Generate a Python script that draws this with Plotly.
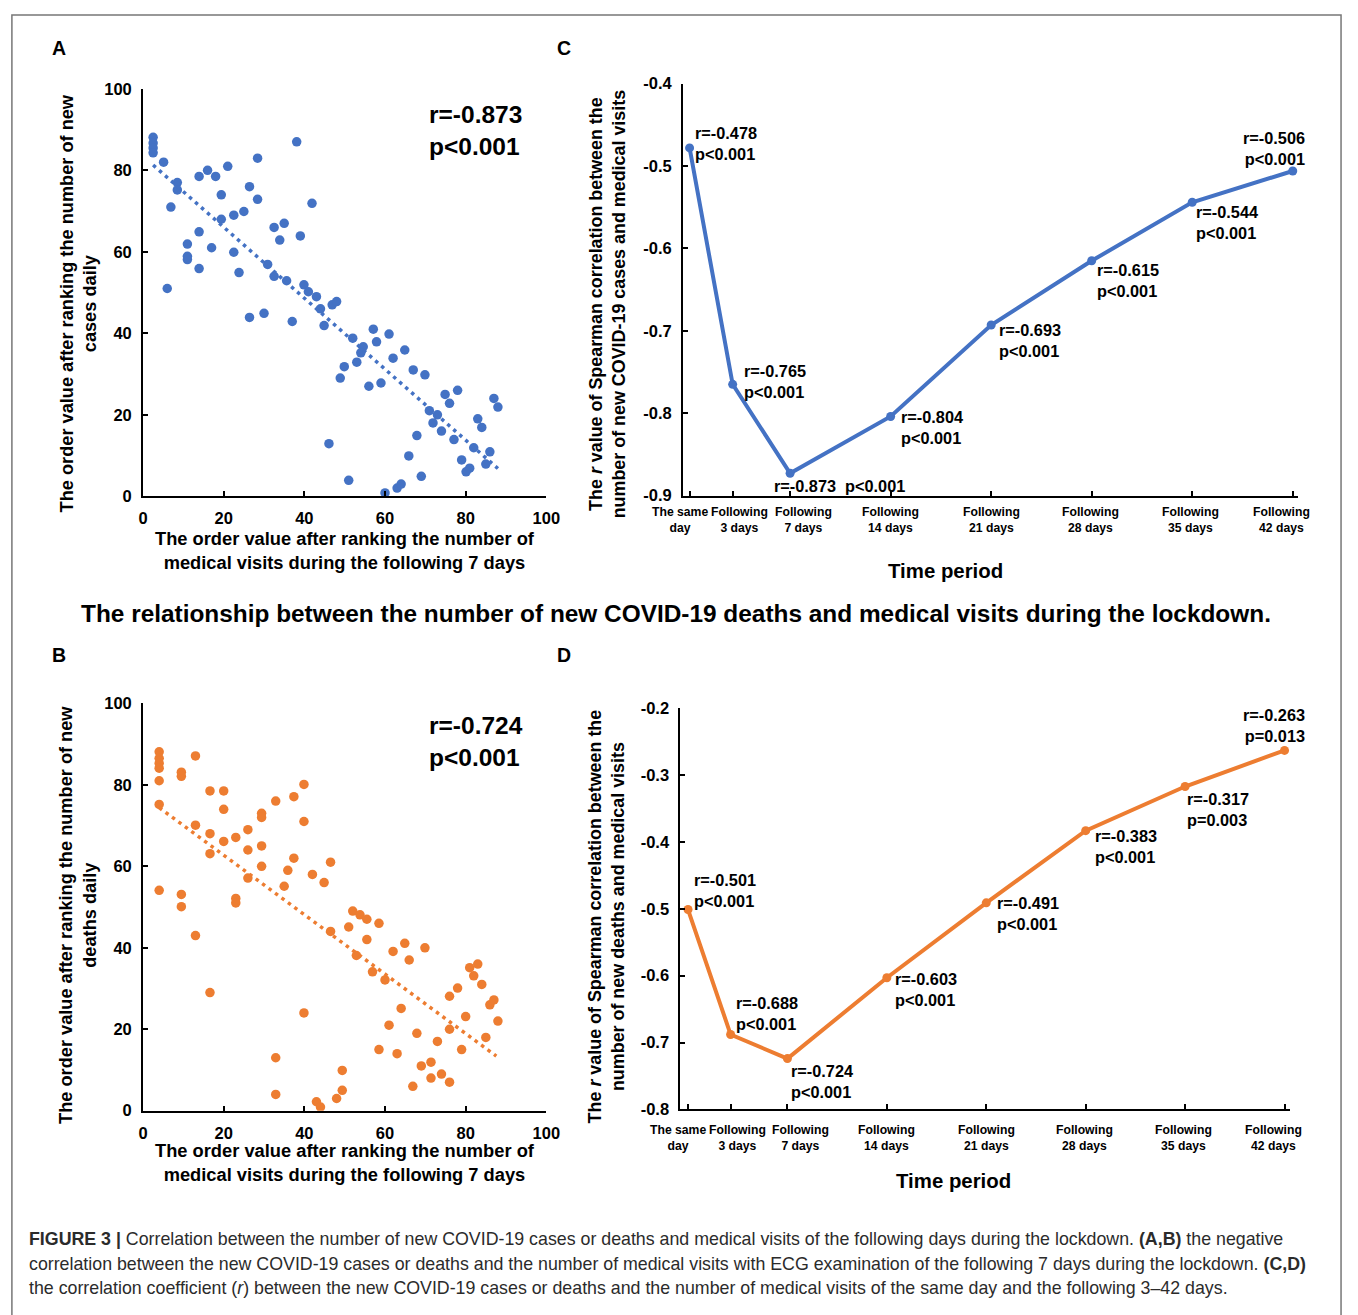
import plotly.graph_objects as go

W, H = 1358, 1315

# ---------------- DATA ----------------
# Panel A: new cases rank vs medical visits rank (following 7 days)
a_x = [2.5, 2.5, 2.5, 2.5, 5.1, 38.1, 28.4, 21, 16, 13.9, 18, 8.5, 8.5, 6.9, 19.4, 26.4, 28.4, 41.9,
       25, 22.5, 19.4, 32.5, 35, 33.9, 39, 13.9, 11, 11, 11, 17, 22.5, 13.9, 23.8, 6, 30.9, 32.5,
       35.6, 39.9, 41, 43, 44, 46.9, 48, 44.9, 26.4, 30, 37, 52, 57.1, 61, 57.9, 54.6, 54, 53,
       49.9, 48.9, 56, 59, 62, 64.9, 67, 69.9, 74.9, 76, 78, 71, 73, 71.9, 74, 77.1, 67.9, 46.1,
       65.9, 79, 80.1, 81, 82, 83, 84, 86, 85, 87, 88, 69, 51, 60, 63, 64]
a_y = [88.1, 86.7, 85.5, 84.3, 82, 87, 83, 81, 80, 78.5, 78.5, 77, 75.2, 71, 74, 76, 72.9, 71.9,
       69.9, 69, 68, 66, 67, 62.9, 63.9, 64.9, 61.9, 58.9, 58.1, 61, 59.9, 55.9, 54.9, 51, 56.9, 54,
       52.9, 51.9, 50.2, 49, 46, 47, 47.8, 41.9, 43.9, 44.9, 42.9, 38.8, 41, 39.8, 37.9, 36.7, 35.2, 32.9,
       31.8, 29, 27, 27.8, 33.9, 35.9, 31, 29.8, 25, 22.8, 26, 21, 20, 18, 16, 13.9, 14.9, 12.9,
       9.9, 8.9, 6, 6.9, 11.9, 19, 16.9, 10.9, 7.9, 24, 21.9, 4.9, 3.9, 0.8, 2, 3]
a_trend_x = [2.5, 88]
a_trend_y = [81.3, 6.8]
a_r, a_p = "r=-0.873", "p<0.001"

# Panel B: new deaths rank vs medical visits rank (following 7 days)
b_x = [4, 4, 4, 4, 4, 4, 4, 9.5, 9.5, 13, 16.6, 20, 20, 13, 16.6, 16.6, 20, 23, 26, 26, 29.4, 29.4,
       29.4, 29.4, 26, 32.9, 37.4, 39.9, 39.9, 37.4, 35.9, 35, 42, 44.9, 46.5, 23, 23, 9.5, 9.5, 13,
       16.6, 39.9, 32.9, 32.9, 43, 44, 48, 49.4, 49.4, 52, 53.8, 55.5, 58.5, 51, 46.5, 55.5, 52.9,
       56.9, 60, 62, 64.9, 66, 69.9, 64, 61, 58.5, 63, 67.9, 69, 66.9, 71.4, 71.4, 73, 74, 76, 76,
       78, 76, 79, 80, 81, 82, 83, 84, 86, 87, 88, 85]
b_y = [88.1, 86.5, 85.3, 84.1, 81, 75.2, 54.1, 83.1, 82.1, 87.1, 78.5, 78.5, 74, 70.1, 68, 63.1,
       66.1, 67.1, 69, 64, 73, 72, 65, 60, 57.1, 76, 77.1, 80.1, 71, 62, 59, 55.1, 58, 56, 61, 52.1,
       51, 53.1, 50.1, 43, 29, 24, 13, 4, 2.2, 0.9, 3, 5, 9.9, 49, 48.1, 47, 46, 45.1, 44, 42, 38.1,
       34.1, 32.1, 39.1, 41.1, 37, 40, 25.1, 21, 15, 14, 19, 11, 6, 11.9, 8, 17, 9, 7, 28.1, 30.1,
       20, 15, 23.1, 35.1, 33.1, 36, 31, 26, 27.2, 22, 18]
b_trend_x = [4, 87.6]
b_trend_y = [74.4, 13.4]
b_r, b_p = "r=-0.724", "p<0.001"

# Panels C, D: Spearman r by time period
days = [0, 3, 7, 14, 21, 28, 35, 42]
day_labels = ["The same<br>day", "Following<br>3 days", "Following<br>7 days", "Following<br>14 days",
              "Following<br>21 days", "Following<br>28 days", "Following<br>35 days", "Following<br>42 days"]
c_r = [-0.478, -0.765, -0.873, -0.804, -0.693, -0.615, -0.544, -0.506]
c_p = ["p<0.001"] * 8
d_r = [-0.501, -0.688, -0.724, -0.603, -0.491, -0.383, -0.317, -0.263]
d_p = ["p<0.001", "p<0.001", "p<0.001", "p<0.001", "p<0.001", "p<0.001", "p=0.003", "p=0.013"]
c_yticks = [-0.4, -0.5, -0.6, -0.7, -0.8, -0.9]
d_yticks = [-0.2, -0.3, -0.4, -0.5, -0.6, -0.7, -0.8]
scatter_ticks = [0, 20, 40, 60, 80, 100]

# ---------------- STYLE ----------------
BLUE = "#4472C4"
ORANGE = "#ED7D31"
FONT = "Liberation Sans, Arial, sans-serif"
BOLD = dict(family=FONT, color="black", weight="bold")


def px(x):
    return x / W


def py(y):
    return 1 - y / H


def f(size, **kw):
    d = dict(BOLD)
    d["size"] = size
    d.update(kw)
    return d


fig = go.Figure()

# Scatter panels
for xs, ys, tx, ty, col, xa, ya in [(a_x, a_y, a_trend_x, a_trend_y, BLUE, "x", "y"),
                                     (b_x, b_y, b_trend_x, b_trend_y, ORANGE, "x3", "y3")]:
    fig.add_trace(go.Scatter(x=xs, y=ys, mode="markers", xaxis=xa, yaxis=ya,
                             marker=dict(size=9.5, color=col), showlegend=False, hoverinfo="skip"))
    fig.add_trace(go.Scatter(x=tx, y=ty, mode="lines", xaxis=xa, yaxis=ya,
                             line=dict(color=col, width=3.5, dash="3.5px,4.5px"), showlegend=False))

# Line panels
for rs, col, xa, ya in [(c_r, BLUE, "x2", "y2"), (d_r, ORANGE, "x4", "y4")]:
    fig.add_trace(go.Scatter(x=days, y=rs, mode="lines+markers", xaxis=xa, yaxis=ya,
                             line=dict(color=col, width=4), marker=dict(size=9, color=col),
                             showlegend=False))

axis_common = dict(showline=True, linewidth=2, linecolor="black", ticks="inside", ticklen=5,
                   tickwidth=1.5, tickcolor="black", showgrid=False, zeroline=False,
                   tickfont=f(16.5), ticklabelstandoff=6)

# domains (pixel based)
A_x = [px(140), px(549)]
A_y = [py(494), py(81)]
B_y = [py(1117), py(704)]
C_x = [px(687.7), px(1311.7)]
C_y = [py(493.3), py(75.7)]
D_x = [px(685), px(1303.3)]
D_y = [py(1115.7), py(709)]
C_range = [-0.453, 42.39]
D_range = [-0.535, 42.39]

fig.update_layout(
    width=W, height=H, margin=dict(l=0, r=0, t=0, b=0),
    paper_bgcolor="white", plot_bgcolor="white",
    xaxis=dict(axis_common, domain=A_x, anchor="y", range=[0, 100], tickvals=scatter_ticks),
    yaxis=dict(axis_common, domain=A_y, anchor="x", range=[0, 100], tickvals=scatter_ticks),
    xaxis3=dict(axis_common, domain=A_x, anchor="y3", range=[0, 100], tickvals=scatter_ticks),
    yaxis3=dict(axis_common, domain=B_y, anchor="x3", range=[0, 100], tickvals=scatter_ticks),
    xaxis2=dict(axis_common, domain=C_x, anchor="y2", range=C_range, tickvals=days,
                showticklabels=False),
    yaxis2=dict(axis_common, domain=C_y, anchor="x2", range=[-0.9, -0.4], tickvals=c_yticks,
                ticktext=[f"{v:.1f}" for v in c_yticks]),
    xaxis4=dict(axis_common, domain=D_x, anchor="y4", range=D_range, tickvals=days,
                showticklabels=False),
    yaxis4=dict(axis_common, domain=D_y, anchor="x4", range=[-0.8, -0.2], tickvals=d_yticks,
                ticktext=[f"{v:.1f}" for v in d_yticks]),
)

ann = []


def paper_text(text, x, y, size, xanchor="center", yanchor="middle", angle=0, **kw):
    ann.append(dict(text=text, x=px(x), y=py(y), xref="paper", yref="paper", showarrow=False,
                    xanchor=xanchor, yanchor=yanchor, textangle=angle, font=f(size, **kw),
                    align="center" if xanchor == "center" else "left"))


# panel letters
paper_text("A", 55, 40, 19.5)
paper_text("C", 567, 40, 19.5)
paper_text("B", 55, 655, 19.5)
paper_text("D", 567, 655, 19.5)

# scatter axis titles
scat_ytitle_A = "The order value after ranking the number of new<br>cases daily"
scat_ytitle_B = "The order value after ranking the number of new<br>deaths daily"
scat_xtitle = "The order value after ranking the number of<br>medical visits during the following 7 days"
paper_text(scat_ytitle_A, 74.5, 298, 18.2, angle=-90)
paper_text(scat_ytitle_B, 74.5, 918, 18.2, angle=-90)
paper_text(scat_xtitle, 345, 549.5, 18.3)
paper_text(scat_xtitle, 345, 1170, 18.3)

# r / p in scatters
paper_text(f"{a_r}<br>{a_p.replace('<', '&lt;')}", 428, 123.5, 24.5, xanchor="left")
paper_text(f"{b_r}<br>{b_p.replace('<', '&lt;')}", 428, 743, 24.5, xanchor="left")

# line panel titles
c_ytitle = ("The <i>r</i> value of Spearman correlation between the<br>"
            "number of new COVID-19 cases and medical visits")
d_ytitle = ("The <i>r</i> value of Spearman correlation between the<br>"
            "number of new deaths and medical visits")
paper_text(c_ytitle, 610.5, 298.5, 17.9, angle=-90)
paper_text(d_ytitle, 609.5, 920, 17.9, angle=-90)
paper_text("Time period", 954, 570, 20.4)
paper_text("Time period", 962, 1188, 20.4)

# middle title
paper_text("The relationship between the number of new COVID-19 deaths and medical visits during the lockdown.",
           681, 613, 24.4)


def to_paper_x(v, dom, rng):
    return dom[0] + (v - rng[0]) / (rng[1] - rng[0]) * (dom[1] - dom[0])


# category labels below line panels
label_offsets = [-0.68, 0.5, 0.9, 0, 0.03, -0.1, -0.1, -0.75]
for dom, rng, ylab in [(C_x, C_range, 518), (D_x, D_range, 1145)]:
    for d, lab, off in zip(days, day_labels, label_offsets):
        ann.append(dict(text=lab, x=to_paper_x(d + off, dom, rng), y=py(ylab), xref="paper",
                        yref="paper", showarrow=False, xanchor="center", yanchor="middle",
                        font=f(12.2), align="center"))

# point labels (offsets in px: dx to text edge, dy of text centre, +down)
c_lab_off = [(3, -4.5, "left"), (9, -2.5, "left"), (-18, 13, "left"), (8, 11.5, "left"),
             (6, 15.5, "left"), (3, 19.5, "left"), (2, 20.5, "left"), (14, -22, "right")]
d_lab_off = [(4, -19, "left"), (3, -21, "left"), (2, 23, "left"), (6, 12, "left"),
             (9, 11, "left"), (7, 16, "left"), (0, 23, "left"), (22, -25, "right")]
for rs, ps, offs, xa, ya in [(c_r, c_p, c_lab_off, "x2", "y2"), (d_r, d_p, d_lab_off, "x4", "y4")]:
    for i, (d, r, p, (dx, dy, anc)) in enumerate(zip(days, rs, ps, offs)):
        pt = p.replace("<", "&lt;")
        sep = "<br>"
        if xa == "x2" and i == 2:
            sep = "\u00a0\u00a0"
        ann.append(dict(text=f"r={r:.3f}{sep}{pt}", x=d, y=r, xref=xa, yref=ya, showarrow=False,
                        xanchor=anc, yanchor="middle", xshift=dx, yshift=-dy, align=anc,
                        font=f(16.3)))

# caption
cap_lines = [
    "<b>FIGURE 3 |</b> Correlation between the number of new COVID-19 cases or deaths and medical visits "
    "of the following days during the lockdown. <b>(A,B)</b> the negative",
    "correlation between the new COVID-19 cases or deaths and the number of medical visits with ECG "
    "examination of the following 7 days during the lockdown. <b>(C,D)</b>",
    "the correlation coefficient (<i>r</i>) between the new COVID-19 cases or deaths and the number of "
    "medical visits of the same day and the following 3–42 days.",
]
for yy, line in zip([1247, 1272, 1297], cap_lines):
    ann.append(dict(text=line, x=px(22), y=py(yy), xref="paper", yref="paper", showarrow=False,
                    xanchor="left", yanchor="middle", align="left",
                    font=dict(family=FONT, size=17.8, color="#2b2b2b")))

fig.update_layout(annotations=ann)

# frame
fig.add_shape(type="rect", xref="paper", yref="paper", x0=px(7), x1=px(1355), y0=py(1330), y1=py(6),
              line=dict(color="#777777", width=1.5), fillcolor="rgba(0,0,0,0)", layer="below")

fig.write_html(
    "out.html",
    config={"displayModeBar": False},
    post_script=("document.documentElement.style.margin='0px';"
                 "document.documentElement.style.padding='0px';"
                 "document.documentElement.style.overflow='hidden';"
                 "document.body.style.margin='0px';document.body.style.padding='0px';"
                 "document.body.style.overflow='hidden';"),
)
